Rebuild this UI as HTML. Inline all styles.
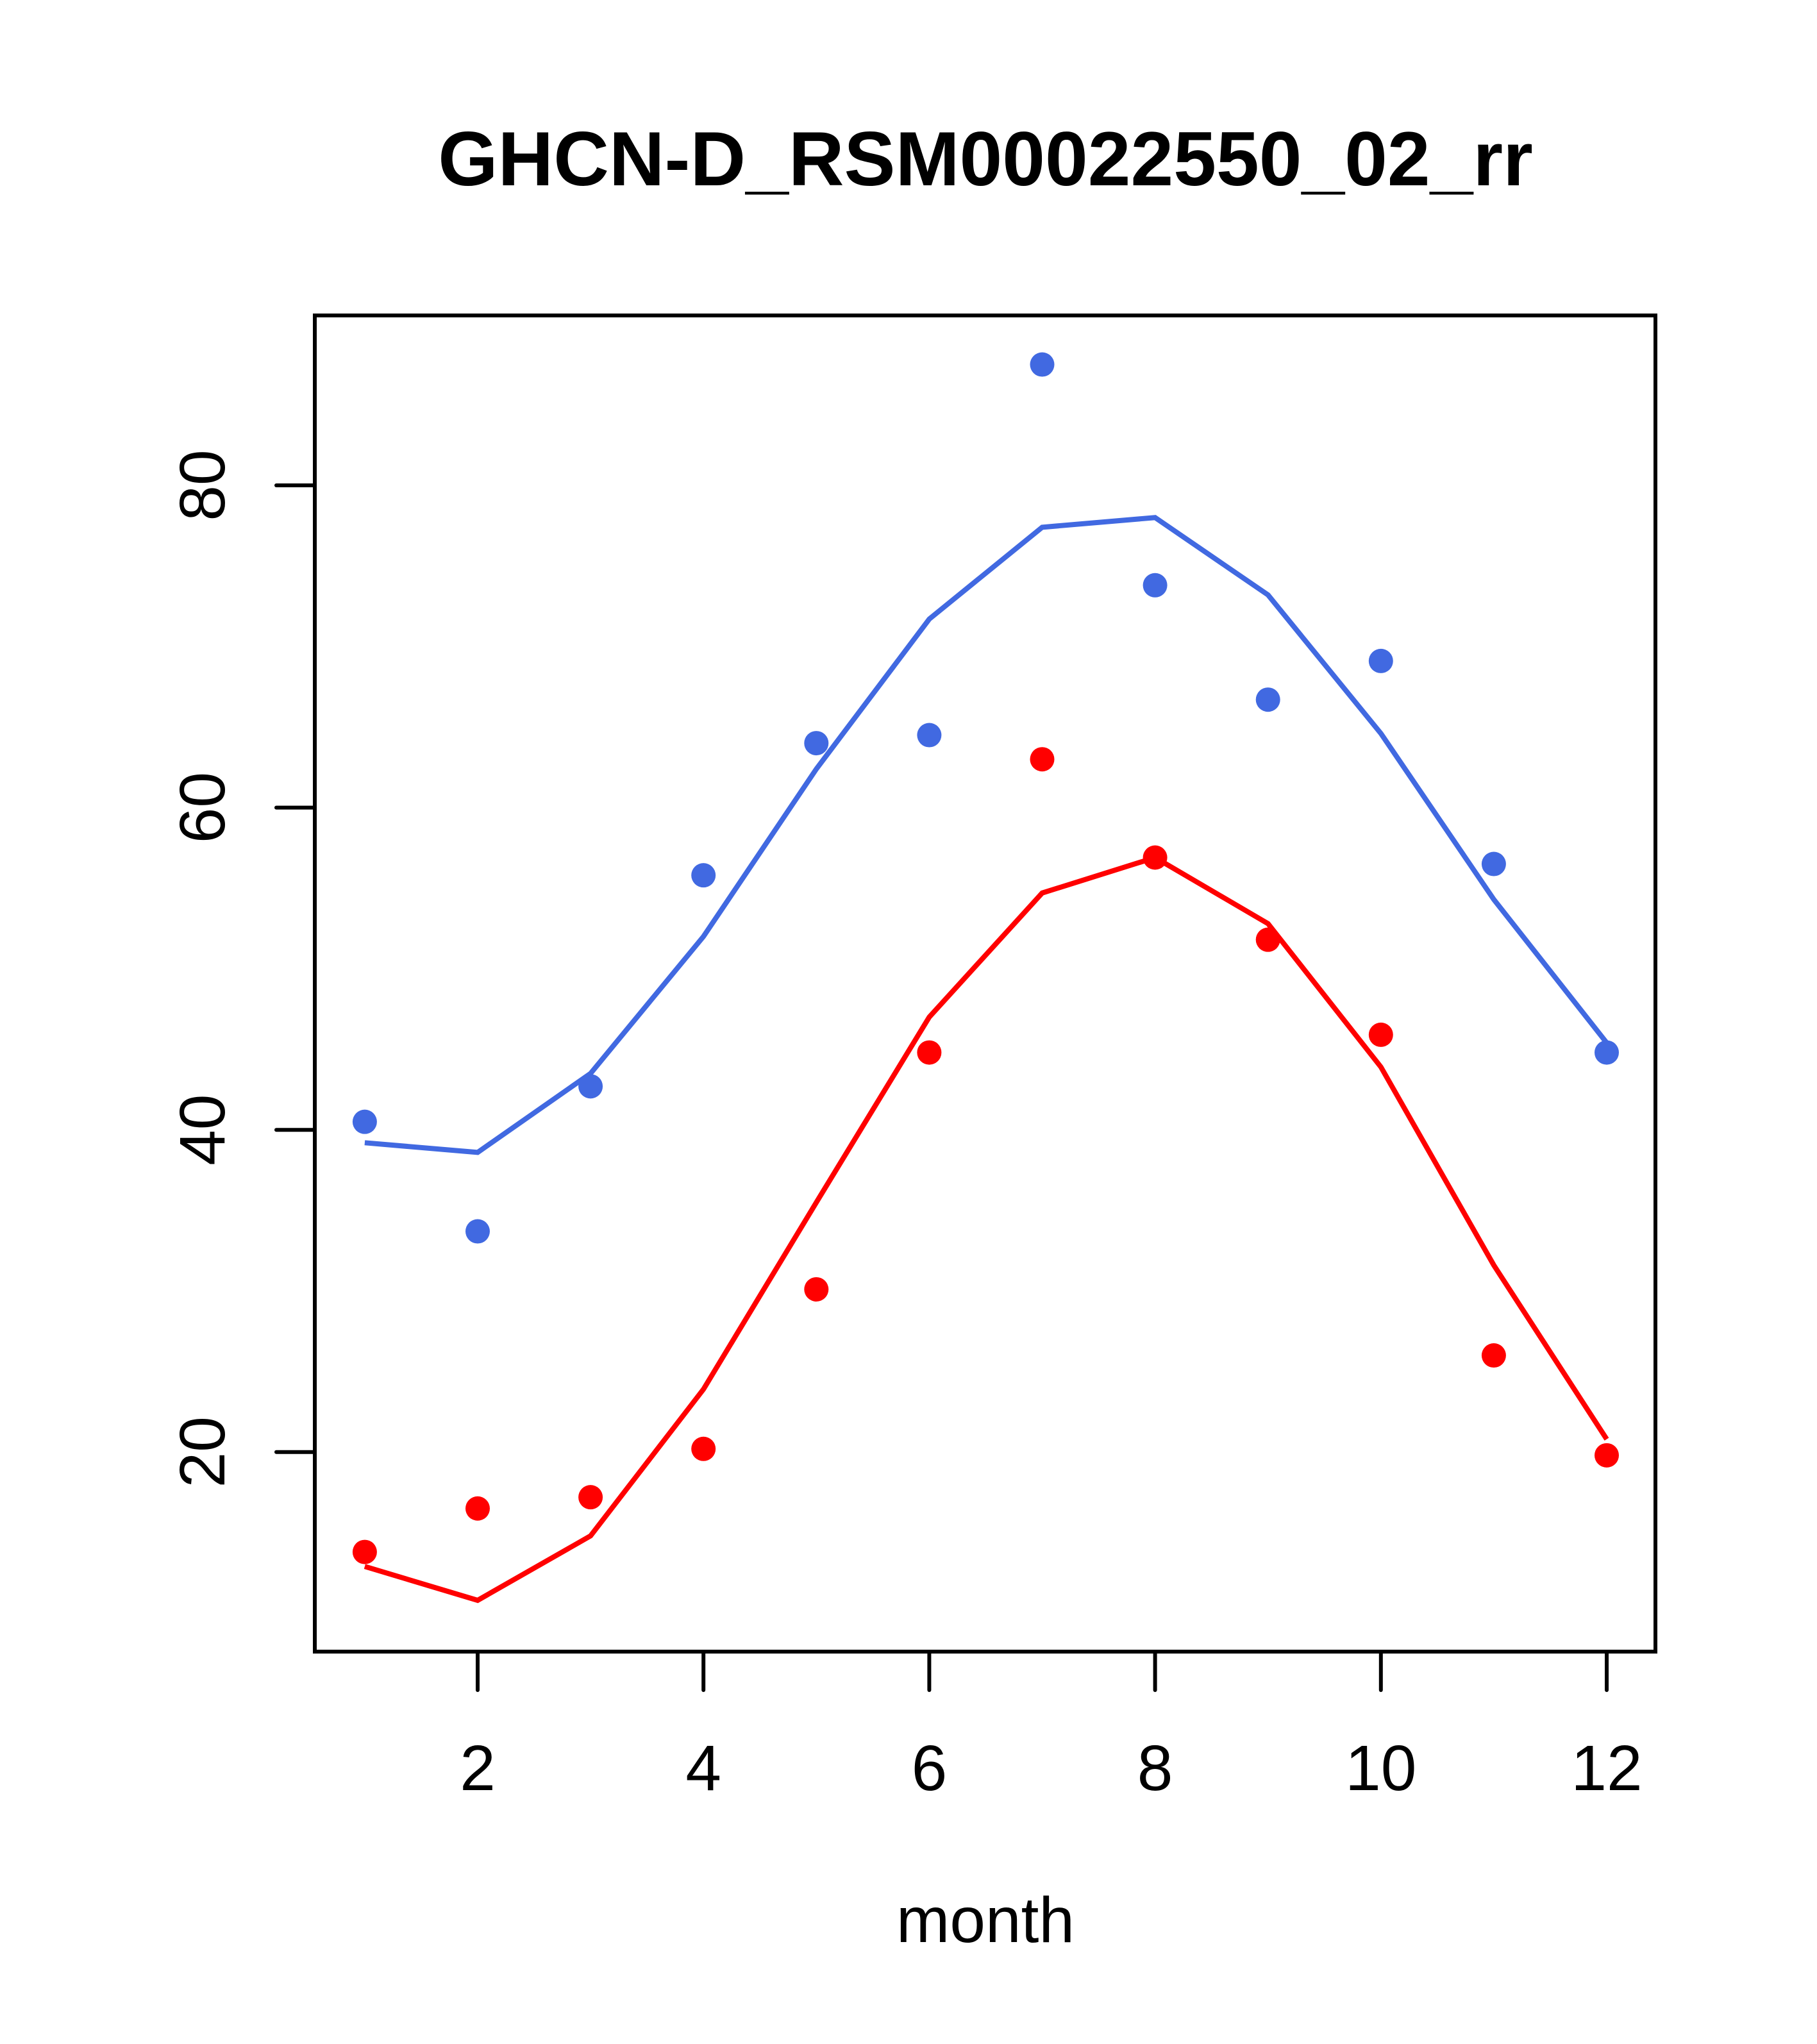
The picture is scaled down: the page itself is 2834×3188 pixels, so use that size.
<!DOCTYPE html>
<html><head><meta charset="utf-8"><style>html,body{margin:0;padding:0;background:#fff}svg{display:block}</style></head>
<body>
<svg id="chart" width="2834" height="3188" xmlns="http://www.w3.org/2000/svg" font-family="Liberation Sans, sans-serif">
<rect width="2834" height="3188" fill="#fff"/>
<text x="1537" y="289" font-size="120" font-weight="bold" text-anchor="middle">GHCN-D_RSM00022550_02_rr</text>
<rect x="491" y="492" width="2091" height="2084" fill="none" stroke="#000" stroke-width="6"/>
<text x="1537" y="3029" font-size="100" text-anchor="middle">month</text>
<g id="xaxis"></g>
<g id="yaxis"></g>
<g id="series"></g>
</svg>
<script>
const months=[1,2,3,4,5,6,7,8,9,10,11,12];
const bluePoints=[40.5,33.7,42.7,55.8,64.0,64.5,87.5,73.8,66.7,69.1,56.5,44.8];
const blueLine=[39.2,38.6,43.5,52.0,62.4,71.7,77.4,78.0,73.2,64.6,54.3,45.4];
const redPoints=[13.8,16.5,17.2,20.2,30.1,44.8,63.0,56.9,51.8,45.9,26.0,19.8];
const redLine=[12.9,10.8,14.8,23.9,35.5,47.0,54.7,56.9,52.8,43.9,31.6,20.8];
const xTicks=[2,4,6,8,10,12];
const yTicks=[20,40,60,80];
const NS="http://www.w3.org/2000/svg";
function X(m){return 568.9+(m-1)*176.1;}
function Y(v){return 757+(80-v)*25.13;}
function mk(tag,attrs,parent){const e=document.createElementNS(NS,tag);for(const k in attrs)e.setAttribute(k,attrs[k]);parent.appendChild(e);return e;}
const xa=document.getElementById('xaxis'),ya=document.getElementById('yaxis'),sg=document.getElementById('series');
xTicks.forEach(t=>{
 const l=mk('line',{x1:X(t),x2:X(t),y1:2576,y2:2636,stroke:'#000','stroke-width':6,'stroke-linecap':'round'},xa);
 
 
 const tx=mk('text',{x:X(t),y:2792,'font-size':100,'text-anchor':'middle'},xa);tx.textContent=t;
 
 
});
yTicks.forEach(t=>{
 const l=mk('line',{x1:431,x2:491,y1:Y(t),y2:Y(t),stroke:'#000','stroke-width':6,'stroke-linecap':'round'},ya);
 
 
 const tx=mk('text',{x:0,y:0,'font-size':100,'text-anchor':'middle',transform:`translate(350,${Y(t)}) rotate(-90)`},ya);tx.textContent=t;
 
 
});
function line(vals,col,name){
 const p=mk('polyline',{points:vals.map((v,i)=>X(months[i])+','+Y(v)).join(' '),fill:'none',stroke:col,'stroke-width':8},sg);
 
 
}
function pts(vals,col,name){
 vals.forEach((v,i)=>{const c=mk('circle',{cx:X(months[i]),cy:Y(v),r:19,fill:col},sg);
 
 });
}
line(blueLine,'#4169E1','blue-line');
line(redLine,'#FF0000','red-line');
pts(bluePoints,'#4169E1','blue-point');
pts(redPoints,'#FF0000','red-point');
</script>
</body></html>
